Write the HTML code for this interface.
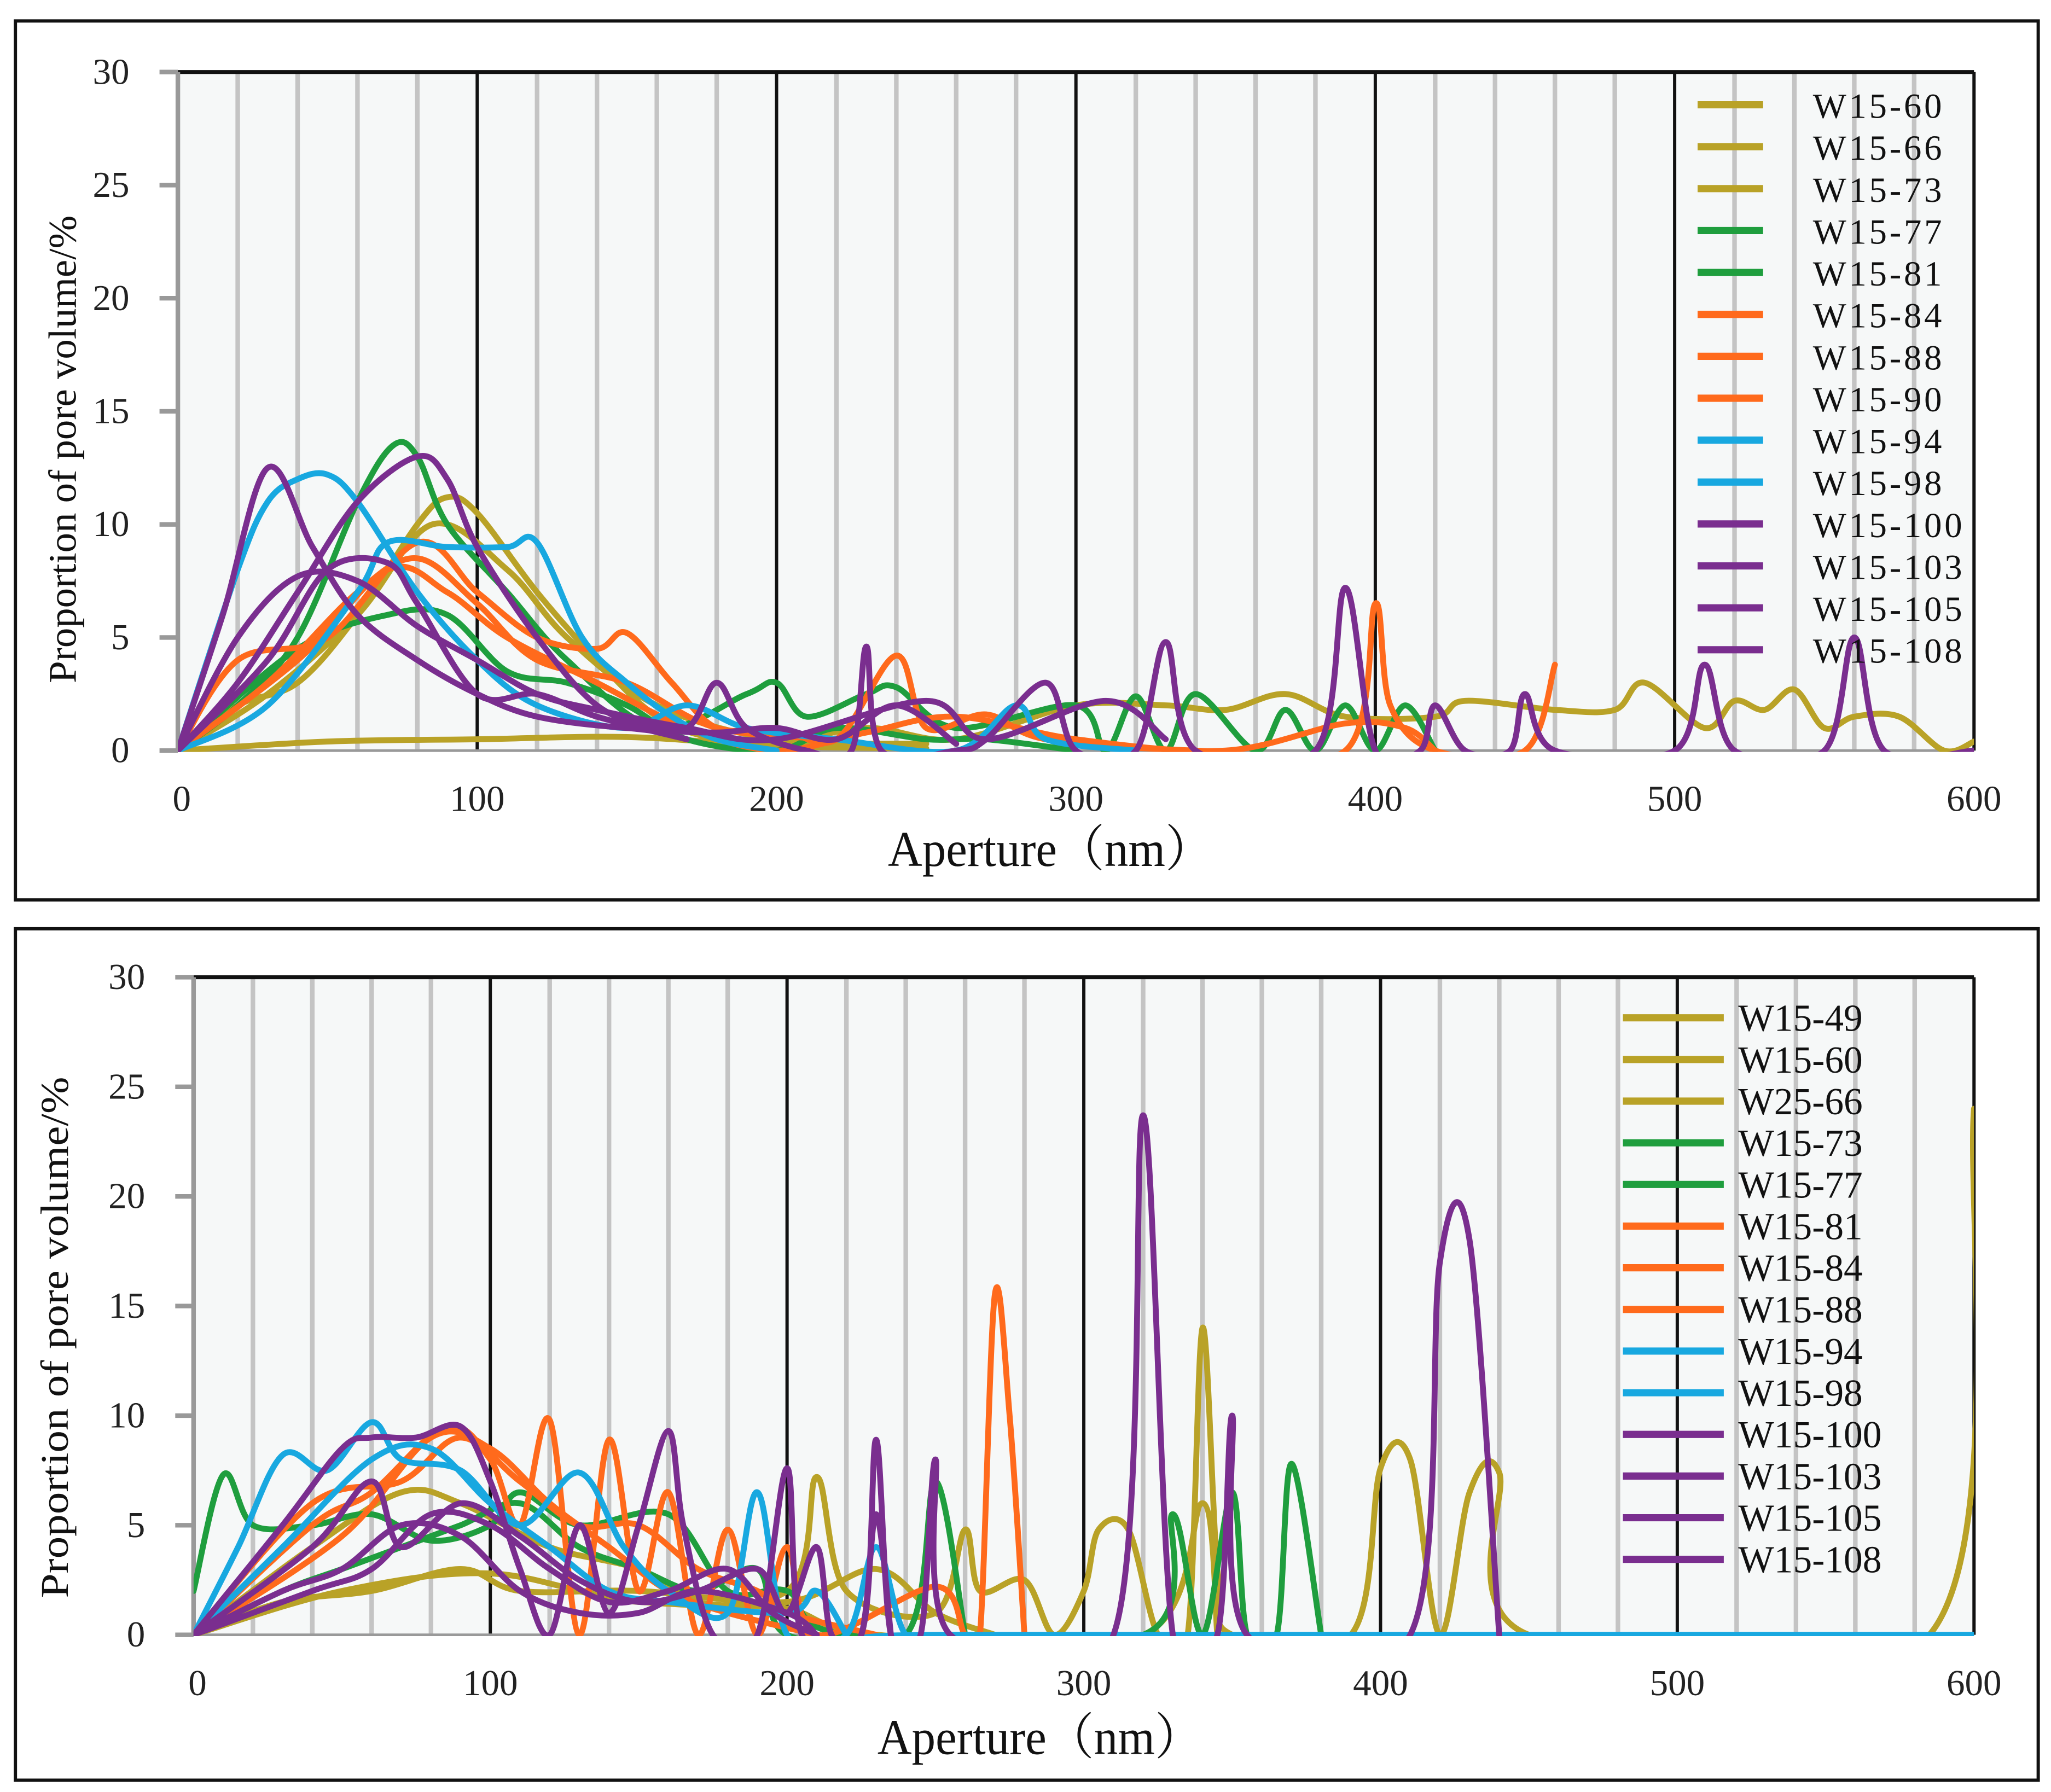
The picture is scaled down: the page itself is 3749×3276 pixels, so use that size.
<!DOCTYPE html>
<html><head><meta charset="utf-8">
<style>
html,body{margin:0;padding:0;background:#fff;}
svg{display:block;}
text{font-family:"Liberation Serif","Noto Serif CJK SC",serif;}
</style></head>
<body>
<svg id="chart" width="3749" height="3276" viewBox="0 0 1564 1368" xmlns="http://www.w3.org/2000/svg"></svg>
<script>
// ---------- TOP PANEL DATA ----------
const topNames = ["W15-60","W15-66","W15-73","W15-77","W15-81","W15-84","W15-88","W15-90","W15-94","W15-98","W15-100","W15-103","W15-105","W15-108"];
const topColors = ["#b9a227","#b9a227","#b9a227","#1f9e3e","#1f9e3e","#ff6a1c","#ff6a1c","#ff6a1c","#18a8e0","#18a8e0","#7a2e8f","#7a2e8f","#7a2e8f","#7a2e8f"];
const topX0 = [0,50,100,150,200,250];
const topY0 = [0,0.4,0.5,0.6,0.2,0.1];
const topX1 = [0,20,40,60,80,90,100,120,140,160,180,200,230,260,300,330,350,370,390,420,430,460,480,490,510,520,530,540,550,560,575,590,600];
const topY1 = [0,2,3,6,10,11.2,10.5,7,4,1.5,0.5,0.3,1,0.5,2,2,1.8,2.5,1.5,1.5,2.2,1.8,1.8,3,1,2.2,1.8,2.7,1,1.5,1.5,0,0.4];
const topX2 = [0,30,60,85,110,130,160,200,250];
const topY2 = [0,2.5,6,10,8,5,2,0.5,0.3];
const topX3 = [0,20,40,60,72,80,90,110,130,160,190,200,210,230,240,260,300,310,320,330,340,360,370,380,390,400,410,420];
const topY3 = [0,2,5,11,13.5,13,10,7,4,1,2.5,3,1.5,2.5,2.8,1,2,0,2.4,0,2.5,0,1.8,0,2,0,2,0];
const topX4 = [0,40,70,90,110,130,150,170,200,220,250,270,300];
const topY4 = [0,4.5,6,6,3.5,3,2,0.5,0,1,0.5,0.5,0];
const topX5 = [0,20,50,80,100,120,140,150,165,180,200,220,240,250,270,290,340,390,400,405,420,450,460];
const topY5 = [0,4,5,9.2,7,5,4.5,5.2,3,1,1,0.5,4.2,1,1.6,0.5,0,0,6.5,2,0,0,3.8];
const topX6 = [0,30,60,80,100,120,150,180,220];
const topY6 = [0,3,7,8.5,6.5,4,3,1,0.5];
const topX7 = [0,40,70,90,110,140,170,200,230,260,300,350,390,410,420];
const topY7 = [0,4,8,7,5,3,1,0,0.8,1.5,0.5,0,1.2,1,0];
const topX8 = [0,20,30,40,50,60,80,100,120,150,170,190,220,260,280,290,320];
const topY8 = [0,8,11,12,12.2,11,7,4,2,1,2,1,0.5,0,2,0.5,0];
const topX9 = [0,30,60,70,90,110,120,135,150,165,180,200];
const topY9 = [0,2,7,9.2,9,9,9.2,5,3,1.5,0.5,0];
const topX10 = [0,15,30,45,60,80,100,120,150,170,180,190,210,225,230,235,260,270,290,300,320,330,340,380,390,400,415,420,430,445,450,460,500,510,520,550,560,570,600];
const topY10 = [0,6,12.5,9,6,4,2.5,1.5,1,1,3,1,0,0,4.6,0,0,0.5,3,0,0,4.8,0,0,7.2,0,0,2,0,0,2.5,0,0,3.8,0,0,5,0,0];
const topX11 = [0,20,40,60,80,90,100,120,140,160,180,200,220,240,260];
const topY11 = [0,3,7,11,13,12,9,5,2,1,0.8,1,0.5,2,0.3];
const topX12 = [0,20,40,60,80,100,120,140,170,200,250,270,310,330];
const topY12 = [0,5,7.7,7.5,5.5,4,2.5,1.8,1,0.5,2.2,0.5,2.2,0.5];
const topX13 = [0,30,50,70,80,100,120,140,170];
const topY13 = [0,4,8,8.3,6.5,2.5,2.5,1.5,0.5];

// ---------- BOTTOM PANEL DATA ----------
const botNames = ["W15-49","W15-60","W25-66","W15-73","W15-77","W15-81","W15-84","W15-88","W15-94","W15-98","W15-100","W15-103","W15-105","W15-108"];
const botColors = ["#b9a227","#b9a227","#b9a227","#1f9e3e","#1f9e3e","#ff6a1c","#ff6a1c","#ff6a1c","#18a8e0","#18a8e0","#7a2e8f","#7a2e8f","#7a2e8f","#7a2e8f"];
const botX0 = [0,50,100,150,200,210,220,250,260,265,280,290,300,305,315,325,335,340,345,350,390,400,410,420,430,440,450,585,600];
const botY0 = [0,2,2.8,1.5,2,7.2,2,1,4.8,2,2.5,0,2,4.8,4.8,0,0,14,3,0,0,7.6,8,0,6.5,7.4,0,0,24];
const botX1 = [0,30,60,90,110,150,200,230,250,270];
const botY1 = [0,1.5,2,3,2,2,1.5,3,1,0];
const botX2 = [0,40,70,90,120,150,170,200,230,320,340,345];
const botY2 = [0,4,6.5,6,4,3,1.5,1.2,0,0,6,0];
const botX3 = [0,10,20,40,60,80,100,110,130,160,180,200,220,320,330,340,350,355,365,370,380];
const botY3 = [2,7.3,5,5,5.5,4.3,5,6.5,5,5.5,2,2,0,0,5.5,0,6.5,0,0,7.8,0];
const botX4 = [0,30,50,70,90,110,130,150,170,190,200,240,250,260];
const botY4 = [0,2,3,4,5,6,4,3,2,3,0,0,7,0];
const botX5 = [0,40,60,85,100,110,120,130,140,150,160,170,180,190,200,210,250,260,265,270,275,280];
const botY5 = [0,5,6.5,9.5,8,5,9.8,0,8.9,2,6.5,0,4.8,0,4,0,2.2,0,0,15.5,10,0];
const botX6 = [0,40,70,90,110,130,150,170,190,200,230];
const botY6 = [0,6,7,9,7,5,5,3,2,1,0];
const botX7 = [0,50,80,100,120,140,160,180,210];
const botY7 = [0,4.5,9,8.5,6,4,2,1,0];
const botX8 = [0,15,30,45,60,70,90,110,130,145,160,180,190,200,220,230,240,255,600];
const botY8 = [0,4,8.2,7.5,9.7,8,7.5,5,7.4,4,2,1,6.5,0,0,4,0,0,0];
const botX9 = [0,30,60,80,100,120,140,160,200,210,220];
const botY9 = [0,4,8,8.5,6,4,2,1.5,1,2,0];
const botX10 = [0,30,50,60,75,90,100,110,120,130,140,150,160,165,175,190,200,205,225,230,235,245,250,255,310,320,330,345,350,355,410,420,430,440];
const botY10 = [0,5,8.5,9,9,9.5,7,3,0,5,1,5,9.3,5,0,0,7.6,0,0,8.9,0,0,8,0,0,23.7,0,0,10,0,0,17,18,0];
const botX11 = [0,40,60,70,90,110,130,150,170,190,200,210,215,225,230,235];
const botY11 = [0,4,7,4,6,4.5,2.5,1.5,2,3,1,4,0,0,5.5,0];
const botX12 = [0,40,60,80,100,120,140,160,180,195,210];
const botY12 = [0,2,3,5.5,5,3,1.5,2,3,1,0];
const botX13 = [0,30,50,70,90,110,130,150,170,200,210];
const botY13 = [0,2,3,5,4.5,2,1,1,2,1,0];

const topXs=[topX0,topX1,topX2,topX3,topX4,topX5,topX6,topX7,topX8,topX9,topX10,topX11,topX12,topX13];
const topYs=[topY0,topY1,topY2,topY3,topY4,topY5,topY6,topY7,topY8,topY9,topY10,topY11,topY12,topY13];
const botXs=[botX0,botX1,botX2,botX3,botX4,botX5,botX6,botX7,botX8,botX9,botX10,botX11,botX12,botX13];
const botYs=[botY0,botY1,botY2,botY3,botY4,botY5,botY6,botY7,botY8,botY9,botY10,botY11,botY12,botY13];
const xTicks=[0,100,200,300,400,500,600];
const yTicks=[0,5,10,15,20,25,30];

const NS="http://www.w3.org/2000/svg";
const svg=document.getElementById('chart');
function mk(tag,attrs,parent){const e=document.createElementNS(NS,tag);for(const k in attrs)e.setAttribute(k,attrs[k]);(parent||svg).appendChild(e);return e;}

function smoothPath(pts){
  let d="M"+pts[0][0].toFixed(2)+","+pts[0][1].toFixed(2);
  for(let i=0;i<pts.length-1;i++){
    const p0=pts[i-1]||pts[i],p1=pts[i],p2=pts[i+1],p3=pts[i+2]||p2;
    const t=6;
    const c1=[p1[0]+(p2[0]-p0[0])/t,p1[1]+(p2[1]-p0[1])/t];
    const c2=[p2[0]-(p3[0]-p1[0])/t,p2[1]-(p3[1]-p1[1])/t];
    d+=" C"+c1[0].toFixed(2)+","+c1[1].toFixed(2)+" "+c2[0].toFixed(2)+","+c2[1].toFixed(2)+" "+p2[0].toFixed(2)+","+p2[1].toFixed(2);
  }
  return d;
}

function panel(cfg){
  const g=mk('g',{});
  
  
  const fr=mk('rect',{x:cfg.box[0],y:cfg.box[1],width:cfg.box[2],height:cfg.box[3],fill:'#fff',stroke:'#111','stroke-width':2.5},g);
  
  const L=cfg.L,R=cfg.R,T=cfg.T,B=cfg.B;
  const sx=v=>L+(R-L)*v/600, sy=v=>B-(B-T)*v/30;
  const bg=mk('rect',{x:L,y:T,width:R-L,height:B-T,fill:'#f6f8f8'},g);
  
  for(let v=20;v<600;v+=20){ if(v%100===0)continue;
    const ln=mk('line',{x1:sx(v),x2:sx(v),y1:T,y2:B,stroke:'#c4c4c4','stroke-width':3.5},g);
    }
  for(let v=100;v<=600;v+=100){
    const ln=mk('line',{x1:sx(v),x2:sx(v),y1:T,y2:B,stroke:'#111','stroke-width':2.5},g);
    }
  const tl=mk('line',{x1:L,x2:R,y1:T,y2:T,stroke:'#111','stroke-width':3},g);
  
  const ya=mk('line',{x1:L,x2:L,y1:T,y2:B,stroke:'#999','stroke-width':3.5},g);
  
  const xa=mk('line',{x1:L,x2:R,y1:B,y2:B,stroke:'#999','stroke-width':2},g);
  
  yTicks.forEach(v=>{
    const tk=mk('line',{x1:L-14,x2:L,y1:sy(v),y2:sy(v),stroke:'#999','stroke-width':3.5},g);
    
    const t=mk('text',{x:L-37,y:sy(v)+9,'text-anchor':'end','font-size':28,fill:'#222'},g);
    t.textContent=v;
  });
  xTicks.forEach(v=>{
    const t=mk('text',{x:sx(v)+(v===0?3:0),y:B+46,'text-anchor':'middle','font-size':28,fill:'#222'},g);
    t.textContent=v;
  });
  const xt=mk('text',{x:cfg.xtx,y:cfg.xty,'text-anchor':'middle','font-size':38,fill:'#111',textLength:248,lengthAdjust:'spacingAndGlyphs'},g);
  xt.textContent="Aperture（nm）";
  const yc=cfg.ytc;
  const yt=mk('text',{x:cfg.ytx,y:yc,'text-anchor':'middle','font-size':30,fill:'#111',textLength:cfg.ytl,lengthAdjust:'spacingAndGlyphs',transform:'rotate(-90 '+cfg.ytx+' '+yc+')'},g);
  yt.textContent="Proportion of  pore volume/%";
  const cid='clip'+cfg.name;
  const cp=mk('clipPath',{id:cid},g);mk('rect',{x:L,y:T,width:R-L,height:B-T+1},cp);
  const sg=mk('g',{'clip-path':'url(#'+cid+')'},g);
  
  cfg.xs.forEach((xs,i)=>{
    const pts=xs.map((x,j)=>[sx(x),sy(cfg.ys[i][j])]);
    const p=mk('path',{d:smoothPath(pts),fill:'none',stroke:cfg.colors[i],'stroke-width':4.5,'stroke-linejoin':'round','stroke-linecap':'round'},sg);
    
    
  });
  cfg.names.forEach((n,i)=>{
    const y=cfg.lgY+i*cfg.lgDy;
    const lg=mk('g',{},g);
    
    mk('line',{x1:cfg.lgX1,x2:cfg.lgX2,y1:y,y2:y,stroke:cfg.colors[i],'stroke-width':5.5},lg);
    const t=mk('text',{x:cfg.lgTx,y:y+10,'font-size':cfg.lfs,fill:'#111','letter-spacing':cfg.ls},lg);
    t.textContent=n;
  });
}

panel({name:'top-panel',box:[11,16,1544,671],L:135,R:1506,T:55,B:573,xtx:801,xty:661,ytx:57,ytc:343,ytl:357,
  xs:topXs,ys:topYs,colors:topColors,names:topNames,lgY:80,lgDy:32,lgX1:1295,lgX2:1345,lgTx:1383,ls:2,lfs:27});
panel({name:'bottom-panel',box:[11,709,1544,650],L:147,R:1506,T:746,B:1248,xtx:793,xty:1339,ytx:51,ytc:1021,ytl:398,
  xs:botXs,ys:botYs,colors:botColors,names:botNames,lgY:777,lgDy:31.8,lgX1:1238,lgX2:1315,lgTx:1326,ls:0,lfs:29});
</script>
</body></html>
